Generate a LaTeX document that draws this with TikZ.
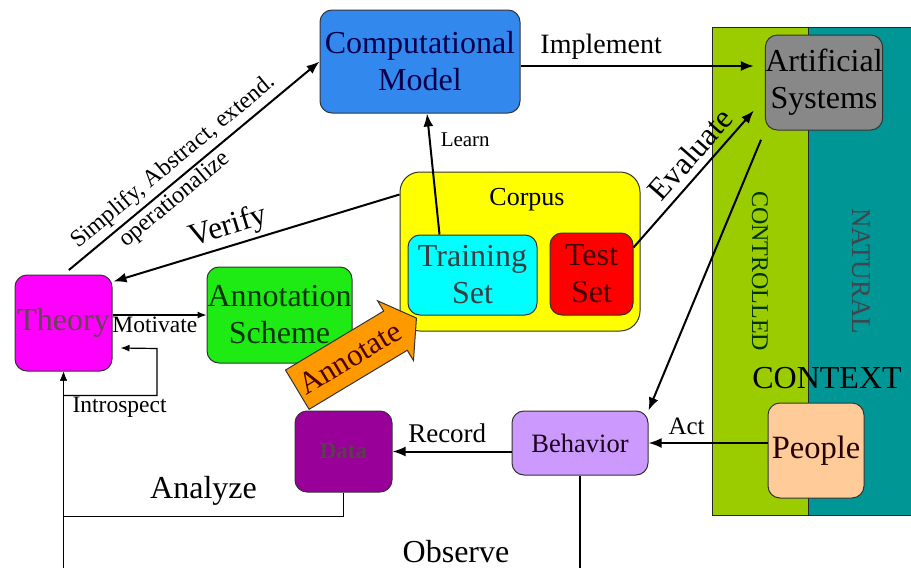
\documentclass[tikz,border=0pt]{standalone}
\usepackage{fontspec}
\setmainfont{Liberation Serif}
\usetikzlibrary{shapes.arrows,arrows.meta,calc}

\definecolor{modelblue}{RGB}{51,136,238}
\definecolor{modeltext}{RGB}{0,0,75}
\definecolor{artgray}{RGB}{136,136,136}
\definecolor{ctrlgreen}{RGB}{155,204,0}
\definecolor{natteal}{RGB}{0,150,150}
\definecolor{corpusyellow}{RGB}{255,255,0}
\definecolor{traincyan}{RGB}{0,255,255}
\definecolor{testred}{RGB}{255,0,0}
\definecolor{theorymag}{RGB}{255,0,255}
\definecolor{annotgreen}{RGB}{30,235,20}
\definecolor{datapurple}{RGB}{153,0,153}
\definecolor{behavlav}{RGB}{204,153,255}
\definecolor{peoplepeach}{RGB}{255,204,153}
\definecolor{annotorange}{RGB}{255,153,0}

\begin{document}
\begin{tikzpicture}[
    x=1pt, y=-1pt,
    box/.style={rectangle, draw=black!80, line width=1pt, rounded corners=12pt, align=center, inner sep=0pt},
    band/.style={rectangle, draw=black!85, line width=1pt, inner sep=0pt},
    big/.style={font=\fontsize{32}{37}\selectfont},
    flow/.style={-{Latex[length=13pt,width=10pt]}, line width=2pt},
    thinflow/.style={-{Latex[length=9pt,width=7pt]}, line width=1.2pt},
    lbl/.style={font=\fontsize{25}{30}\selectfont, inner sep=2pt}
]
\useasboundingbox (0,0) rectangle (911,568);

% context bands
\node[band, fill=ctrlgreen, rotate=-90, minimum width=488pt, minimum height=96pt,
      text=black!80!green, font=\fontsize{24}{29}\selectfont] (controlled) at (760,271) {CONTROLLED};
\node[band, fill=natteal, rotate=-90, minimum width=488pt, minimum height=107pt,
      text=black!80!cyan, font=\fontsize{27}{32}\selectfont] (natural) at (861.5,271) {NATURAL};
\node[font=\fontsize{32}{38}\selectfont] (context) at (827,378) {CONTEXT};

% boxes
\node[box, big, fill=modelblue, text=modeltext, minimum width=200pt, minimum height=103pt] (model) at (420,61.5) {Computational\\Model};
\node[box, big, fill=artgray, minimum width=112pt, minimum height=95pt] (artificial) at (824,82.5) {Artificial\\Systems};
\node[box, fill=corpusyellow, rounded corners=20pt, minimum width=240pt, minimum height=159pt] (corpus) at (520,251.5) {};
\node[anchor=north, font=\fontsize{26}{31}\selectfont] (corpuslbl) at ($(corpus.north)+(7,13)$) {Corpus};
\node[box, big, fill=traincyan, text=black!85!cyan, minimum width=129pt, minimum height=80pt] (training) at (472.5,275) {Training\\Set};
\node[box, big, fill=testred, text=black!75!red, minimum width=83pt, minimum height=82pt] (testset) at (591.5,274) {Test\\Set};
\node[box, big, fill=theorymag, text=black!70!magenta, minimum width=97pt, minimum height=96pt] (theory) at (63.5,323) {Theory};
\node[box, big, fill=annotgreen, text=black!80!green, minimum width=145pt, minimum height=96pt] (annot) at (279.5,315) {Annotation\\Scheme};
\node[box, fill=datapurple, text=black!75!magenta, font=\fontsize{23}{28}\bfseries\selectfont, minimum width=97pt, minimum height=81pt] (data) at (343.5,451.5) {Data};
\node[box, fill=behavlav, text=black!80!violet, font=\fontsize{26.5}{32}\selectfont, minimum width=136pt, minimum height=64pt] (behavior) at (580,443) {Behavior};
\node[box, fill=peoplepeach, text=black!85!red, font=\fontsize{32.5}{38}\selectfont, minimum width=96pt, minimum height=95pt] (people) at (816,450.5) {People};

\node[single arrow, draw=black!80, line width=1pt, fill=annotorange, rotate=31,
      minimum height=139pt, single arrow head extend=12pt, single arrow tip angle=110,
      inner xsep=0pt, inner ysep=12pt,
      text=black!70!red, font=\fontsize{31}{37}\selectfont] (annotate) at (350,358) {Annotate};

% connectors
\draw[flow, shorten <=7pt] (theory.north) --
    node[lbl, sloped, above=2pt, pos=0.47, font=\fontsize{24}{29}\selectfont] {Simplify, Abstract, extend.}
    node[lbl, sloped, below=0pt, pos=0.4, font=\fontsize{24}{29}\selectfont] {operationalize} (model.west);
\draw[flow, shorten >=11pt] (model.east |- 0,66) -- node[lbl, above=4pt, pos=0.33, font=\fontsize{28}{33}\selectfont] {Implement} (artificial.west |- 0,66);
\draw[flow] ($(training.north)+(-33,0)$) -- node[lbl, right=8pt, pos=0.78, font=\fontsize{21}{25}\selectfont] {Learn} ($(model.south)+(7,0)$);
\draw[flow] ($(corpus.north west)+(0,23)$) -- node[lbl, sloped, above=1pt, pos=0.58, font=\fontsize{31.5}{37}\selectfont] {Verify} ($(theory.north east)+(1,7)$);
\draw[flow] ($(testset.north east)+(0,15)$) -- node[lbl, sloped, above=5pt, pos=0.59, font=\fontsize{31.5}{37}\selectfont] {Evaluate} ($(artificial.south west)+(-11,-20)$);
\draw[flow, shorten <=10pt] (artificial.south west) -- (behavior.north east);
\draw[flow] (people.west |- behavior.east) -- node[lbl, above=5pt, pos=0.68] {Act} (behavior.east);
\draw[flow] (behavior.west |- data.east) -- node[lbl, above=6pt, pos=0.54, font=\fontsize{27}{32}\selectfont] {Record} (data.east);
\draw[thinflow] (theory.east |- annot.west) -- node[lbl, below=0pt, pos=0.45, inner sep=1pt, font=\fontsize{23.5}{28}\selectfont] {Motivate} (annot.west);
\draw[thinflow] (theory.south) ++(0,24) -| node[lbl, below=0pt, pos=0.3, inner sep=1pt, font=\fontsize{23.5}{28}\selectfont] {Introspect}
    ++(93.5,-47) -- ($(theory.east)+(8,25)$);
\draw[thinflow] (data.south) -- ++(0,24) -| node[lbl, above=9pt, pos=0.25, font=\fontsize{32}{38}\selectfont] {Analyze} (theory.south);
\draw[thinflow] (behavior.south) -- ++(0,100) -| node[lbl, above=10pt, pos=0.12, font=\fontsize{32}{38}\selectfont] {Observe} (theory.south);

\end{tikzpicture}
\end{document}
